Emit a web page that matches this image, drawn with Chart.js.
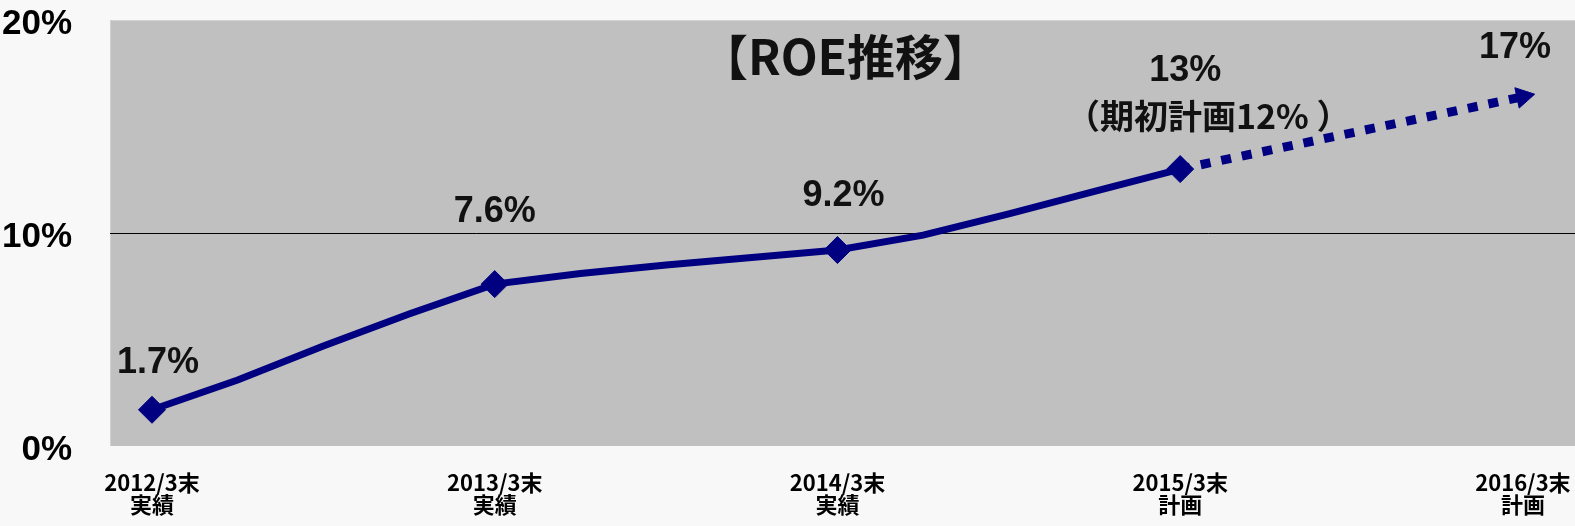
<!DOCTYPE html>
<html>
<head>
<meta charset="utf-8">
<script src="https://cdn.jsdelivr.net/npm/chart.js@4.4.1/dist/chart.umd.min.js"></script>
<style>
  html, body { margin: 0; padding: 0; background: #F8F8F8; }
  canvas { display: block; }
</style>
</head>
<body>
<canvas id="c" width="1575" height="526"></canvas>
<script>
// ---- data ----
const categories = [
  ['2012/3末', '実績'],
  ['2013/3末', '実績'],
  ['2014/3末', '実績'],
  ['2015/3末', '計画'],
  ['2016/3末', '計画']
];
const roeX      = [0, 0.25, 0.5, 0.75, 1, 1.25, 1.5, 1.75, 2, 2.25, 2.5, 2.75, 3];
const roeValues = [1.7, 3.1, 4.7, 6.2, 7.6, 8.1, 8.5, 8.85, 9.2, 9.9, 10.9, 11.95, 13];
const planX      = [3, 4];
const planValues = [13, 16.4];
const pointLabels = ['1.7%', '7.6%', '9.2%', '13%', '17%'];
const planNote = '（期初計画12% ）';
const yTicks = [0, 10, 20];
const chartTitle = '【ROE推移】';

const NAVY = '#000080';

const bgPlugin = {
  id: 'bg',
  beforeDraw(chart) {
    const { ctx, chartArea: a } = chart;
    ctx.save();
    ctx.fillStyle = '#F8F8F8';
    ctx.fillRect(0, 0, chart.width, chart.height);
    ctx.fillStyle = '#C0C0C0';
    ctx.fillRect(a.left, a.top, a.right - a.left, a.bottom - a.top);
    ctx.strokeStyle = '#D2D2D2';
    ctx.lineWidth = 1;
    ctx.beginPath();
    ctx.moveTo(a.left + 0.5, a.bottom);
    ctx.lineTo(a.left + 0.5, a.top + 0.5);
    ctx.lineTo(a.right, a.top + 0.5);
    ctx.stroke();
    ctx.restore();
  }
};

const labelPlugin = {
  id: 'labels',
  afterDatasetsDraw(chart) {
    const { ctx, chartArea: a } = chart;
    const xs = chart.scales.x, ys = chart.scales.y;
    ctx.save();
    ctx.fillStyle = '#111';
    ctx.textAlign = 'center';
    ctx.textBaseline = 'middle';
    // title
    ctx.font = 'bold 48px "Noto Sans CJK JP"';
    ctx.fillText(chartTitle, (a.left + a.right) / 2 + 3, a.top + 37);
    // yearly labels
    const offs = [[6, -47], [0, -72], [6, -54], [5, -98], [-8, -49]];
    ctx.font = 'bold 36px "Liberation Sans", Arial, sans-serif';
    const vals = [roeValues[0], roeValues[4], roeValues[8], roeValues[12], planValues[1]];
    pointLabels.forEach((t, i) => {
      const px = xs.getPixelForValue(i), py = ys.getPixelForValue(vals[i]);
      ctx.fillText(t, px + offs[i][0], py + offs[i][1]);
    });
    // note
    ctx.font = 'bold 34px "Noto Sans CJK JP"';
    ctx.fillText(planNote, xs.getPixelForValue(3) + 28, ys.getPixelForValue(roeValues[12]) - 53);
    ctx.restore();
  }
};

new Chart(document.getElementById('c'), {
  type: 'line',
  data: {
    datasets: [
      {
        label: 'ROE',
        data: roeX.map((x, i) => ({ x, y: roeValues[i] })),
        borderColor: NAVY,
        backgroundColor: NAVY,
        borderWidth: 7,
        pointStyle: 'rectRot',
        pointRadius: c => Number.isInteger(c.raw && c.raw.x) ? 13.5 : 0,
        pointBackgroundColor: NAVY,
        pointBorderColor: NAVY,
        pointBorderWidth: 1,
        tension: 0
      },
      {
        label: 'Plan',
        data: planX.map((x, i) => ({ x, y: planValues[i] })),
        borderColor: NAVY,
        backgroundColor: NAVY,
        borderWidth: 9,
        borderDash: [10, 11],
        borderCapStyle: 'butt',
        pointStyle: 'triangle',
        pointRotation: 78,
        pointRadius: [0, 12],
        pointBackgroundColor: NAVY,
        pointBorderColor: NAVY,
        pointBorderWidth: 1,
        tension: 0
      }
    ]
  },
  options: {
    responsive: false,
    animation: false,
    layout: { autoPadding: false, padding: { top: 20, right: 0, bottom: 0, left: 0 } },
    plugins: {
      legend: { display: false },
      tooltip: { enabled: false }
    },
    scales: {
      x: {
        type: 'linear',
        min: -0.1225,
        max: 4.152,
        afterBuildTicks: s => { s.ticks = categories.map((_, i) => ({ value: i })); },
        afterFit: s => { s.height = 80; s.paddingLeft = 0; s.paddingRight = 0; },
        grid: { display: false, drawTicks: false },
        border: { display: false },
        ticks: {
          autoSkip: false,
          maxRotation: 0,
          padding: 26,
          color: '#000',
          font: { family: '"Noto Sans CJK JP"', size: 22, weight: 'bold', lineHeight: 1 },
          callback: v => categories[v]
        }
      },
      y: {
        min: 0,
        max: 20,
        afterBuildTicks: s => { s.ticks = yTicks.map(v => ({ value: v })); },
        afterFit: s => { s.width = 110; s.paddingTop = 0; s.paddingBottom = 0; },
        grid: {
          drawTicks: false,
          color: c => (c.tick && c.tick.value === 10) ? '#000' : 'rgba(0,0,0,0)',
          lineWidth: 1
        },
        border: { display: false },
        ticks: {
          padding: 38,
          labelOffset: 4,
          color: '#000',
          font: { family: '"Liberation Sans", Arial, sans-serif', size: 35, weight: 'bold', lineHeight: 1 },
          callback: v => v + '%'
        }
      }
    }
  },
  plugins: [bgPlugin, labelPlugin]
});
</script>
</body>
</html>
